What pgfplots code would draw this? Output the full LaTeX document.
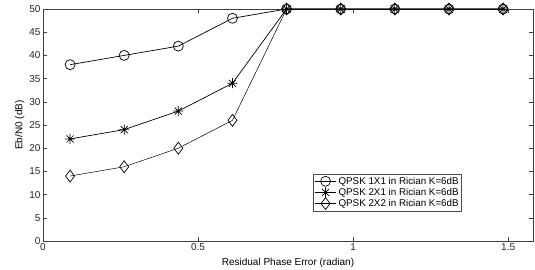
\documentclass[border=0pt]{standalone}
\usepackage{fontspec}
\setmainfont{Liberation Sans}
\usepackage{pgfplots}
\pgfplotsset{compat=1.18}
\pgfdeclareplotmark{mstar}{%
  \pgfpathmoveto{\pgfqpoint{-\pgfplotmarksize}{0pt}}\pgfpathlineto{\pgfqpoint{\pgfplotmarksize}{0pt}}%
  \pgfpathmoveto{\pgfqpoint{0pt}{-\pgfplotmarksize}}\pgfpathlineto{\pgfqpoint{0pt}{\pgfplotmarksize}}%
  \pgfpathmoveto{\pgfqpoint{-0.707\pgfplotmarksize}{-0.707\pgfplotmarksize}}\pgfpathlineto{\pgfqpoint{0.707\pgfplotmarksize}{0.707\pgfplotmarksize}}%
  \pgfpathmoveto{\pgfqpoint{-0.707\pgfplotmarksize}{0.707\pgfplotmarksize}}\pgfpathlineto{\pgfqpoint{0.707\pgfplotmarksize}{-0.707\pgfplotmarksize}}%
  \pgfusepathqstroke}
\begin{document}
\begin{tikzpicture}
\path[use as bounding box] (0,0) rectangle (535pt,270pt);
\begin{axis}[
  at={(43pt,29pt)}, anchor=south west,
  scale only axis, width=490pt, height=232pt,
  xmin=0, xmax=1.58, ymin=0, ymax=50,
  xtick={0,0.5,1,1.5}, ytick={0,5,...,50},
  xticklabels={0,0.5,1,1.5},
  tick align=inside, tick pos=both,
  major tick length=4pt,
  axis line style={draw=black!75, line width=0.6pt},
  tick style={draw=black!75, line width=0.5pt},
  every tick label/.append style={font=\fontsize{10}{12}\selectfont, text=black!85},
  xticklabel style={yshift=1pt},
  yticklabel style={xshift=1pt},
  /pgf/number format/assume math mode=true,
  xlabel={Residual Phase Error (radian)},
  ylabel={Eb/N0 (dB)},
  label style={font=\fontsize{10}{12}\selectfont},
  xlabel style={yshift=-1pt},
  ylabel style={yshift=-2pt},
  clip=false,
  legend cell align=left,
  legend style={at={(0.855,0.129)}, anchor=south east, draw=black!70, line width=0.5pt,
    font=\fontsize{9.8}{11}\selectfont, inner sep=1pt, row sep=-1.5pt,
    /tikz/every even column/.append style={column sep=0pt}},
  legend image code/.code={\draw[#1] (0cm,0cm) -- (0.75cm,0cm); \draw[#1,only marks] plot coordinates {(0.375cm,0cm)};},
]
\addplot[black, line width=0.7pt, mark=o, mark size=5pt, mark options={line width=0.7pt}] coordinates {
(0.0873,38) (0.2618,40) (0.4363,42) (0.6109,48) (0.7854,50) (0.9599,50) (1.1345,50) (1.3090,50) (1.4835,50)};
\addlegendentry{QPSK 1X1 in Rician K=6dB}
\addplot[black, line width=0.7pt, mark=mstar, mark size=5pt, mark options={line width=0.7pt}] coordinates {
(0.0873,22) (0.2618,24) (0.4363,28) (0.6109,34) (0.7854,50) (0.9599,50) (1.1345,50) (1.3090,50) (1.4835,50)};
\addlegendentry{QPSK 2X1 in Rician K=6dB}
\addplot[black, line width=0.5pt, mark=diamond, mark size=6pt, mark options={line width=0.7pt}] coordinates {
(0.0873,14) (0.2618,16) (0.4363,20) (0.6109,26) (0.7854,50) (0.9599,50) (1.1345,50) (1.3090,50) (1.4835,50)};
\addlegendentry{QPSK 2X2 in Rician K=6dB}
\end{axis}
\end{tikzpicture}
\end{document}
